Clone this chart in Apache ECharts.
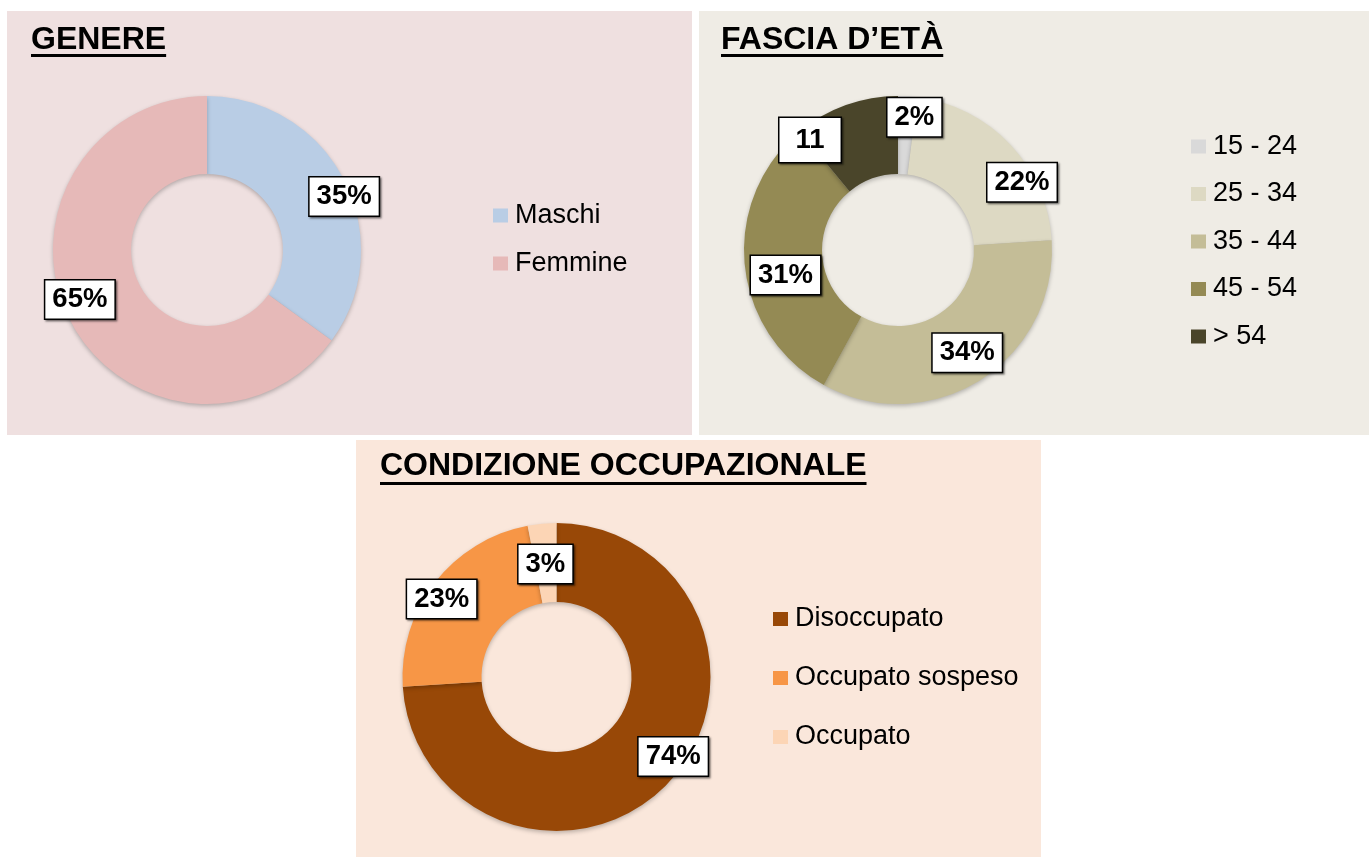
<!DOCTYPE html>
<html>
<head>
<meta charset="utf-8">
<script src="https://cdn.jsdelivr.net/npm/echarts@6/dist/echarts.min.js"></script>
<style>
html,body{margin:0;padding:0;background:#fff;}
#chart{width:1369px;height:857px;}
</style>
</head>
<body>
<div id="chart"></div>
<script>
// ---- data ----
const genderNames = ['Maschi', 'Femmine'];
const genderValues = [35, 65];

const ageNames = ['15 - 24', '25 - 34', '35 - 44', '45 - 54', '> 54'];
const ageValues = [2, 22, 34, 31, 11];
const ageLabelTexts = ['2%', '22%', '34%', '31%', '11'];

const occNames = ['Disoccupato', 'Occupato sospeso', 'Occupato'];
const occValues = [74, 23, 3];

const titles = ['GENERE', 'FASCIA D\u2019ET\u00C0', 'CONDIZIONE OCCUPAZIONALE'];

// ---- styles ----
const genderColors = ['#B9CDE5', '#E6B9B8'];
const ageColors = ['#D9D9D9', '#DDD9C3', '#C4BD97', '#948A54', '#4A452A'];
const occColors = ['#984807', '#F79646', '#FCD5B5'];

const genderLabelShift = [[32, 0], [-22, -4]];
const ageLabelShift = [[9, -15], [38, 13], [6, 3], [5, 14], [-48, 1]];
const occLabelShift = [[31, -1], [-22, -6], [0, 4]];
const agePadding = [null, null, null, null, [8, 16, 8, 16]];

const FONT = "'Liberation Sans', Arial, Helvetica, sans-serif";

function measure(text, font) {
  const c = document.createElement('canvas').getContext('2d');
  c.font = font;
  return c.measureText(text).width;
}

function makeData(names, values, colors, paddings) {
  return names.map((n, i) => {
    const d = { name: n, value: values[i], itemStyle: { color: colors[i] } };
    if (paddings && paddings[i]) d.label = { padding: paddings[i] };
    return d;
  });
}

const labelStyle = {
  show: true,
  position: 'inside',
  color: '#000',
  fontFamily: FONT,
  fontWeight: 'bold',
  fontSize: 27.5,
  backgroundColor: '#fff',
  borderColor: '#000',
  borderWidth: 1.5,
  padding: [5, 7, 5, 7],
  shadowColor: 'rgba(0,0,0,0.45)',
  shadowBlur: 2,
  shadowOffsetX: 1.5,
  shadowOffsetY: 1.5
};

const sectorStyle = {
  shadowColor: 'rgba(0,0,0,0.25)',
  shadowBlur: 4,
  shadowOffsetY: 2
};

function pieSeries(center, radius, names, values, colors, shifts, fmt, paddings) {
  return {
    type: 'pie',
    center: center,
    radius: radius,
    startAngle: 90,
    clockwise: true,
    avoidLabelOverlap: false,
    emphasis: { disabled: true },
    data: makeData(names, values, colors, paddings),
    itemStyle: sectorStyle,
    label: Object.assign({}, labelStyle, { formatter: fmt }),
    labelLine: { show: false },
    labelLayout: function (p) {
      const s = shifts[p.dataIndex];
      return { dx: s[0], dy: s[1] };
    }
  };
}

const titleFont = 'bold 32px ' + FONT;
const titlePos = [[31, 40, 54], [721, 40, 54], [380, 466, 482]];

const graphics = [
  { type: 'rect', shape: { x: 7, y: 11, width: 685, height: 424 }, style: { fill: '#EFE0E0' }, z: -10 },
  { type: 'rect', shape: { x: 699, y: 11, width: 670, height: 424 }, style: { fill: '#EFECE5' }, z: -10 },
  { type: 'rect', shape: { x: 356, y: 440, width: 685, height: 417 }, style: { fill: '#FAE7DB' }, z: -10 }
];
titles.forEach((t, i) => {
  const p = titlePos[i];
  graphics.push({
    type: 'text', x: p[0], y: p[1], z: 10,
    style: { text: t, font: titleFont, fill: '#000', textAlign: 'left', textVerticalAlign: 'middle' }
  });
  graphics.push({
    type: 'rect', z: 10,
    shape: { x: p[0], y: p[2], width: measure(t, titleFont), height: 3 },
    style: { fill: '#000' }
  });
});

const legendText = { color: '#000', fontSize: 27, fontFamily: FONT, padding: [0, 0, 0, 2] };

const option = {
  backgroundColor: '#fff',
  animation: false,
  graphic: graphics,
  legend: [
    { data: genderNames, orient: 'vertical', left: 493, top: 202, padding: 0, itemGap: 21,
      itemWidth: 15, itemHeight: 14, icon: 'rect', textStyle: legendText, selectedMode: false },
    { data: ageNames, orient: 'vertical', left: 1191, top: 133, padding: 0, itemGap: 20.5,
      itemWidth: 15, itemHeight: 14, icon: 'rect', textStyle: legendText, selectedMode: false },
    { data: occNames, orient: 'vertical', left: 773, top: 605.5, padding: 0, itemGap: 32,
      itemWidth: 15, itemHeight: 14, icon: 'rect', textStyle: legendText, selectedMode: false }
  ],
  series: [
    pieSeries([207, 250], [76, 154], genderNames, genderValues, genderColors, genderLabelShift, '{c}%'),
    pieSeries([898, 250], [76, 154], ageNames, ageValues, ageColors, ageLabelShift,
      function (p) { return ageLabelTexts[p.dataIndex]; }, agePadding),
    pieSeries([556.5, 677], [75, 154], occNames, occValues, occColors, occLabelShift, '{c}%')
  ]
};

const chart = echarts.init(document.getElementById('chart'), null, { renderer: 'canvas' });
chart.setOption(option);
</script>
</body>
</html>
